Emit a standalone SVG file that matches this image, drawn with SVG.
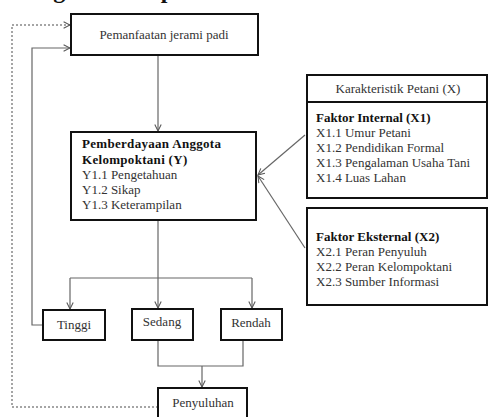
<svg xmlns="http://www.w3.org/2000/svg" width="488" height="417" viewBox="0 0 488 417">
<defs>
<marker id="arr" viewBox="0 0 10 10" refX="9" refY="5" markerWidth="8" markerHeight="8" orient="auto" markerUnits="userSpaceOnUse">
<path d="M1,1 L9,5 L1,9" fill="none" stroke="#555" stroke-width="1.3"/>
</marker>
</defs>
<style>
.box{fill:#fff;stroke:#111;stroke-width:2}
.t{font-family:"Liberation Serif","Times New Roman",serif;font-size:13px;fill:#333}
.b{font-family:"Liberation Serif","Times New Roman",serif;font-size:13px;font-weight:bold;fill:#111}
.c{text-anchor:middle}
.ln{fill:none;stroke:#666;stroke-width:1.2}
.dot{fill:none;stroke:#888;stroke-width:1.5;stroke-dasharray:2 2}
</style>
<rect width="488" height="417" fill="#fff"/>
<text x="-12" y="-2" font-family="Liberation Serif,serif" font-size="24" font-weight="bold" fill="#111">Kerangka Konsep</text>
<g id="connectors">
<path class="dot" d="M158,407 H12 V25 H70" marker-end="url(#arr)"/>
<path class="ln" d="M43,325 H32 V48 H70" marker-end="url(#arr)"/>
<path class="ln" d="M158,55 V131" marker-end="url(#arr)"/>
<path class="ln" d="M305,135 L258,175" marker-end="url(#arr)"/>
<path class="ln" d="M305,248 L258,176" marker-end="url(#arr)"/>
<path class="ln" d="M158,220 V308" marker-end="url(#arr)"/>
<path class="ln" d="M70,278 H252"/>
<path class="ln" d="M70,278 V309" marker-end="url(#arr)"/>
<path class="ln" d="M252,278 V308" marker-end="url(#arr)"/>
<path class="ln" d="M158,340 V366 H243 V340"/>
<path class="ln" d="M202,366 V387" marker-end="url(#arr)"/>
</g>
<g id="pemanfaatan">
<rect class="box" x="71" y="14" width="187" height="41"/>
<text class="t c" x="164" y="39">Pemanfaatan jerami padi</text>
</g>
<g id="pemberdayaan">
<rect class="box" x="71" y="132" width="185" height="88"/>
<text class="b" x="82" y="148" letter-spacing="0.3">Pemberdayaan Anggota</text>
<text class="b" x="82" y="164" letter-spacing="0.3">Kelompoktani (Y)</text>
<text class="t" x="82" y="179">Y1.1 Pengetahuan</text>
<text class="t" x="82" y="194">Y1.2 Sikap</text>
<text class="t" x="82" y="209">Y1.3 Keterampilan</text>
</g>
<g id="karakteristik">
<rect class="box" x="307" y="75" width="180" height="123"/>
<line x1="307" y1="102" x2="487" y2="102" stroke="#111" stroke-width="2"/>
<text class="t c" x="398" y="93">Karakteristik Petani (X)</text>
<text class="b" x="316" y="122">Faktor Internal (X1)</text>
<text class="t" x="316" y="137">X1.1 Umur Petani</text>
<text class="t" x="316" y="152">X1.2 Pendidikan Formal</text>
<text class="t" x="316" y="167">X1.3 Pengalaman Usaha Tani</text>
<text class="t" x="316" y="182">X1.4 Luas Lahan</text>
</g>
<g id="eksternal">
<rect class="box" x="307" y="208" width="180" height="97"/>
<text class="b" x="316" y="241">Faktor Eksternal (X2)</text>
<text class="t" x="316" y="256">X2.1 Peran Penyuluh</text>
<text class="t" x="316" y="271">X2.2 Peran Kelompoktani</text>
<text class="t" x="316" y="286">X2.3 Sumber Informasi</text>
</g>
<g id="tinggi">
<rect class="box" x="43" y="310" width="62" height="30"/>
<text class="t c" x="74" y="329">Tinggi</text>
</g>
<g id="sedang">
<rect class="box" x="132" y="309" width="61" height="31"/>
<text class="t c" x="162" y="326">Sedang</text>
</g>
<g id="rendah">
<rect class="box" x="221" y="309" width="61" height="31"/>
<text class="t c" x="251" y="327">Rendah</text>
</g>
<g id="penyuluhan">
<rect class="box" x="158" y="388" width="89" height="40"/>
<text class="t c" x="203" y="407">Penyuluhan</text>
</g>
</svg>
